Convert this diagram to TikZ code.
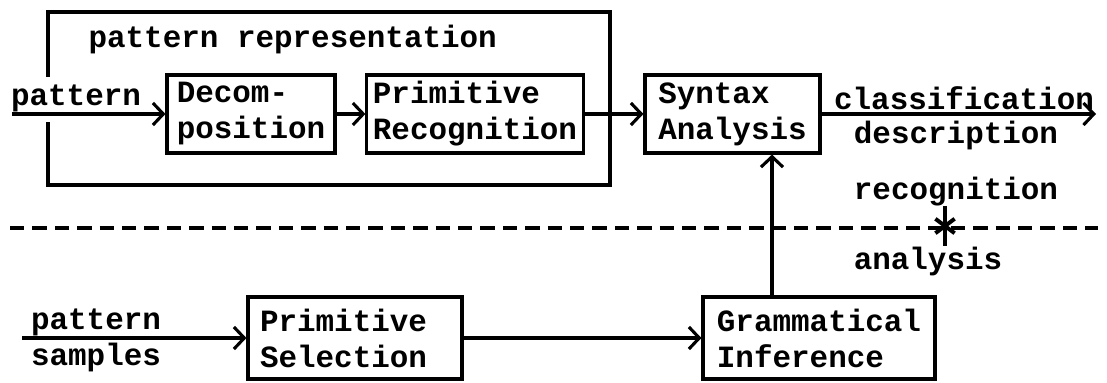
\documentclass[tikz,border=0pt]{standalone}
\usepackage{fontspec}
\setmonofont{Liberation Mono}
\usetikzlibrary{arrows.meta,positioning}

\begin{document}
\begin{tikzpicture}[>={Straight Barb[length=2.6mm,width=5.5mm]}, line width=2.2pt,
  font=\ttfamily\bfseries\fontsize{22}{25.6}\selectfont,
  blk/.style={draw, align=left, inner xsep=0.15cm, inner ysep=0pt, minimum height=1.95cm},
  lbl/.style={inner sep=0pt},
  sepline/.style={dash pattern=on 0.36cm off 0.2cm, line width=3pt}]
\useasboundingbox (0,0) rectangle (27.675,9.55);
% recognition
\draw (1.2,7.625) |- (15.25,9.25) -- (15.25,4.925) -| (1.2,6.5);
\node[lbl, anchor=west] (rep) at (2.175,8.55) {pattern representation};
\coordinate (in) at (0.3,6.7);
\node[lbl] (pin) at (1.9,7.1) {pattern};
\node[blk, minimum width=4.2cm] (dec) at (6.275,6.7) {Decom-\\position};
\node[blk, minimum width=5.4cm] (prc) at (11.875,6.7) {Primitive\\Recognition};
\node[blk, minimum width=4.375cm] (syn) at (18.3125,6.7) {Syntax\\Analysis};
\coordinate (out) at (27.4,6.7);
\node[lbl] (cls) at (24.1,7.1) {classification};
\node[lbl] (dsc) at (23.9,6.15) {description};
\draw[->] (in) -- (dec); \draw[->] (dec) -- (prc); \draw[->] (prc) -- (syn); \draw[->] (syn) -- (out);
% separator
\coordinate (dl) at (0.25,3.85);
\coordinate (dr) at (27.45,3.85);
\draw[sepline] (dl) -- (dr);
\node[lbl] (rcg) at (23.9,4.75) {recognition};
\node[lbl] (ana) at (23.2,3.0) {analysis};
\coordinate (mk) at (23.625,3.9);
\draw (mk) ++(0,0.5) -- ++(0,-1);
\draw[line width=2.8pt] (mk) ++(-0.24,0.18) -- ++(0.48,-0.36);
\draw[line width=2.8pt] (mk) ++(-0.24,-0.18) -- ++(0.48,0.36);
% analysis
\coordinate (smp) at (0.55,1.1);
\node[lbl] (pat2) at (2.4,1.5) {pattern};
\node[lbl] (sam) at (2.4,0.62) {samples};
\node[blk, inner xsep=0.3cm, text width=4.75cm, minimum height=2.05cm] (sel) at (8.875,1.1) {Primitive\\Selection};
\node[blk, minimum width=5.8cm, minimum height=2.05cm] (gi) at (20.475,1.1) {Grammatical\\Inference};
\draw[->] (smp) -- (sel); \draw[->] (sel) -- (gi);
\draw[->] ([xshift=-1.175cm]gi.north) -- ([xshift=-1.175cm]gi.north |- syn.south);
\end{tikzpicture}
\end{document}
